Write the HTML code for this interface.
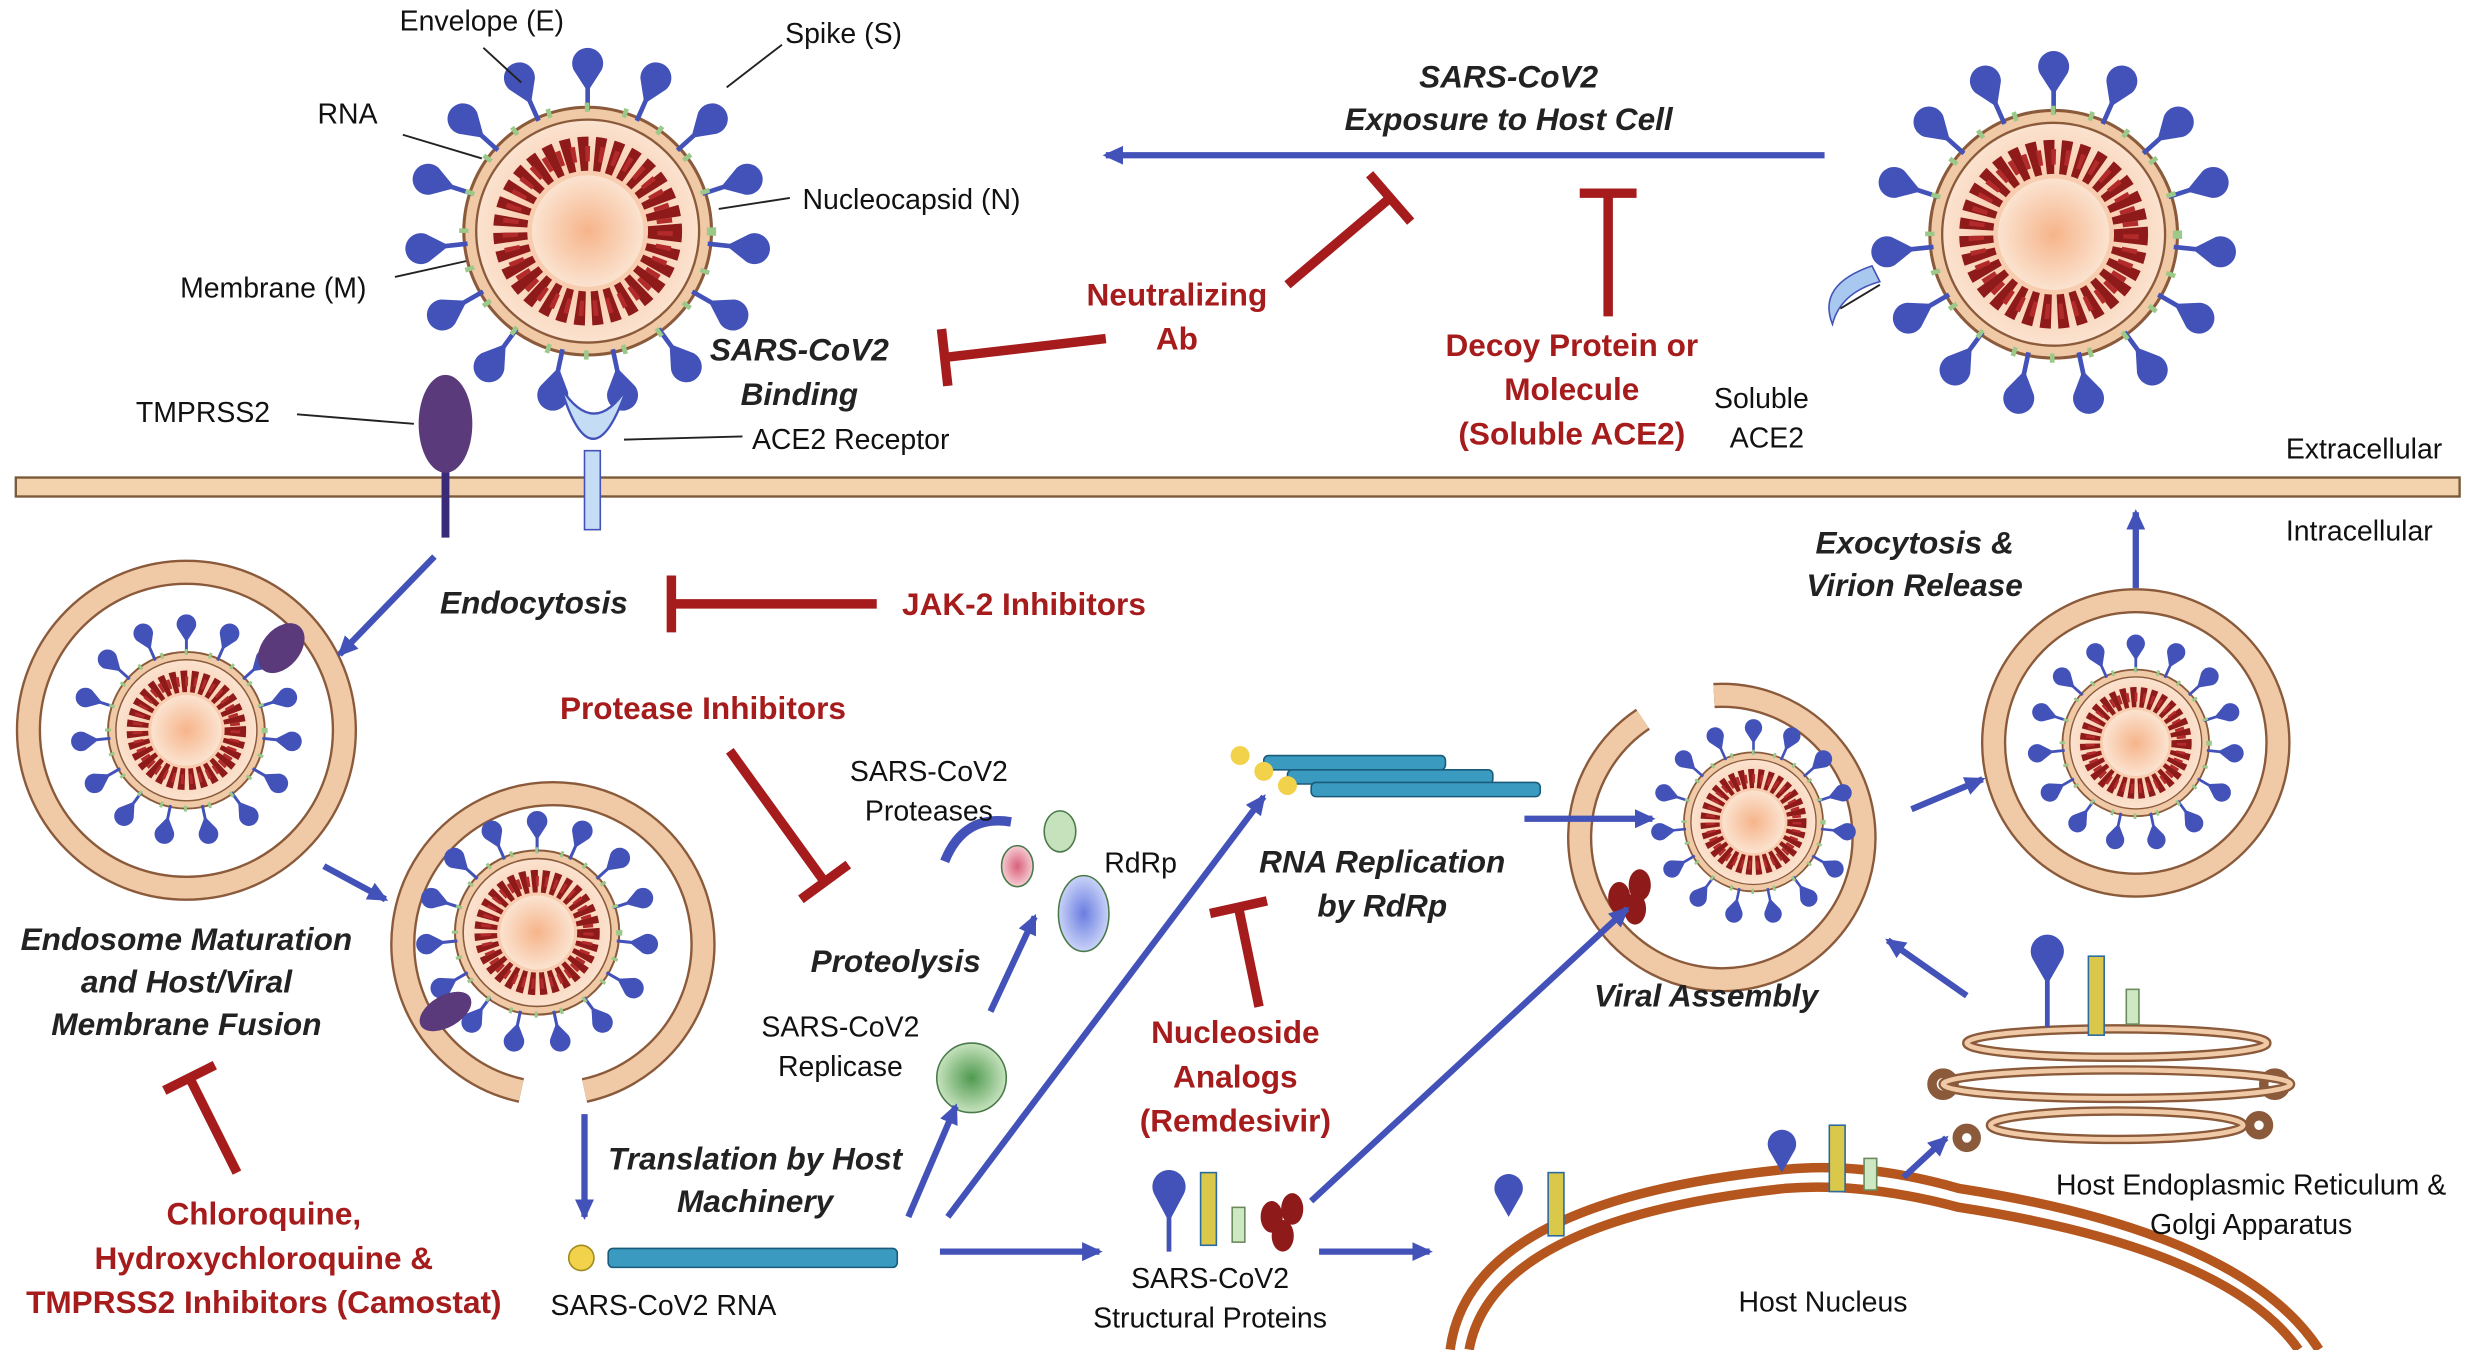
<!DOCTYPE html>
<html><head><meta charset="utf-8"><style>
html,body{margin:0;padding:0;background:#fff;}
svg{display:block}
text{font-family:"Liberation Sans",Arial,sans-serif;}
.l{font-size:18px;fill:#111}
.b{font-size:20px;font-weight:bold;font-style:italic;fill:#222}
.r{font-size:20px;font-weight:bold;fill:#a61c1c}
</style></head><body>
<svg width="2477" height="1350" viewBox="0 0 1568 854" xmlns="http://www.w3.org/2000/svg">
<defs>
<radialGradient id="core"><stop offset="0" stop-color="#f6b48a"/><stop offset="1" stop-color="#fbe3d0"/></radialGradient>
<radialGradient id="gr"><stop offset="0" stop-color="#4f9a4f"/><stop offset="1" stop-color="#c6e2bd"/></radialGradient>
<radialGradient id="bl"><stop offset="0" stop-color="#6a7de0"/><stop offset="1" stop-color="#c9d2f8"/></radialGradient>
<radialGradient id="pk"><stop offset="0" stop-color="#d9607a"/><stop offset="1" stop-color="#f6ccd4"/></radialGradient>
<marker id="ah" markerWidth="14" markerHeight="14" refX="11" refY="7" orient="auto" markerUnits="userSpaceOnUse"><path d="M0,1 L13,7 L0,13 z" fill="#4352b8"/></marker>
<g id="sp"><line x1="0" y1="-78" x2="0" y2="-96" stroke="#4352b8" stroke-width="3"/><path d="M0,-90 L-9,-104 A10,10 0 1 1 9,-104 Z" fill="#4352b8"/></g>
<g id="vir">
<circle r="80" fill="#f0c9a6" stroke="#8a5a3a" stroke-width="2"/>
<circle r="72" fill="url(#core)" stroke="#8a5a3a" stroke-width="1.5"/>
<circle r="50" fill="none" stroke="#8e1a1a" stroke-width="22" stroke-dasharray="6 4"/>
<circle r="50" fill="none" stroke="#b32a2a" stroke-width="10" stroke-dasharray="3 6"/>
<circle r="36" fill="url(#core)"/>
<g>
<use href="#sp" transform="rotate(0)"/><use href="#sp" transform="rotate(24)"/><use href="#sp" transform="rotate(48)"/><use href="#sp" transform="rotate(72)"/><use href="#sp" transform="rotate(96)"/><use href="#sp" transform="rotate(120)"/><use href="#sp" transform="rotate(144)"/><use href="#sp" transform="rotate(168)"/><use href="#sp" transform="rotate(192)"/><use href="#sp" transform="rotate(216)"/><use href="#sp" transform="rotate(240)"/><use href="#sp" transform="rotate(264)"/><use href="#sp" transform="rotate(288)"/><use href="#sp" transform="rotate(312)"/><use href="#sp" transform="rotate(336)"/>
</g>
<circle r="80" fill="none" stroke="#9bc98a" stroke-width="6" stroke-dasharray="3 22"/>
</g>
</defs>

<rect x="10" y="302" width="1547" height="12" fill="#f2d3ae" stroke="#7a5a3a" stroke-width="1.5"/>

<use href="#vir" transform="translate(372,146) scale(0.98)"/>
<use href="#vir" transform="translate(1300,148) scale(0.98)"/>
<path d="M1185,168 Q1150,180 1160,205 Q1165,185 1190,178 Z" fill="#a9c8f0" stroke="#4352b8"/>

<line x1="282" y1="290" x2="282" y2="340" stroke="#3a2a7a" stroke-width="5"/>
<ellipse cx="282" cy="268" rx="17" ry="31" fill="#5a3a7a"/>
<rect x="370" y="285" width="10" height="50" fill="#c4dcf4" stroke="#4352b8"/>
<path d="M355,245 Q375,310 397,245 Q376,278 355,245 Z" fill="#c4dcf4" stroke="#4352b8" stroke-width="1.5"/>

<circle cx="118" cy="462" r="100" fill="none" stroke="#8a5a3a" stroke-width="16"/>
<circle cx="118" cy="462" r="100" fill="none" stroke="#f0c9a6" stroke-width="13"/>
<use href="#vir" transform="translate(118,462) scale(0.62)"/>
<ellipse cx="178" cy="410" rx="12" ry="18" fill="#5a3a7a" transform="rotate(40 178 410)"/>
<path d="M330,690 A95,95 0 1 1 370,690" fill="none" stroke="#8a5a3a" stroke-width="16"/>
<path d="M330,690 A95,95 0 1 1 370,690" fill="none" stroke="#f0c9a6" stroke-width="13"/>
<use href="#vir" transform="translate(340,590) scale(0.65)"/>
<ellipse cx="282" cy="640" rx="10" ry="18" fill="#5a3a7a" transform="rotate(60 282 640)"/>
<path d="M1040,455 A90,90 0 1 0 1085,440" fill="none" stroke="#8a5a3a" stroke-width="16"/>
<path d="M1040,455 A90,90 0 1 0 1085,440" fill="none" stroke="#f0c9a6" stroke-width="13"/>
<use href="#vir" transform="translate(1110,520) scale(0.55)"/>
<circle cx="1352" cy="470" r="90" fill="none" stroke="#8a5a3a" stroke-width="16"/>
<circle cx="1352" cy="470" r="90" fill="none" stroke="#f0c9a6" stroke-width="13"/>
<use href="#vir" transform="translate(1352,470) scale(0.58)"/>

<g fill="none" stroke="#8a5a3a" stroke-width="6">
<ellipse cx="1340" cy="660" rx="95" ry="9"/><ellipse cx="1340" cy="686" rx="110" ry="9"/><ellipse cx="1340" cy="712" rx="80" ry="9"/>
<circle cx="1230" cy="686" r="7"/><circle cx="1440" cy="686" r="7"/><circle cx="1430" cy="712" r="6"/><circle cx="1245" cy="720" r="6"/>
</g>
<g fill="none" stroke="#f0c9a6" stroke-width="3">
<ellipse cx="1340" cy="660" rx="95" ry="9"/><ellipse cx="1340" cy="686" rx="110" ry="9"/><ellipse cx="1340" cy="712" rx="80" ry="9"/>
</g>
<path d="M1296,620 L1288,606 A9,9 0 1 1 1304,606 Z M1296,620 V650" fill="#4352b8" stroke="#4352b8" stroke-width="3"/>
<rect x="1322" y="605" width="10" height="50" fill="#d9c84a" stroke="#2a6aa0"/>
<rect x="1346" y="626" width="8" height="22" fill="#cfe8c4" stroke="#6a8a5a"/>

<path d="M918,854 Q930,760 1130,740 Q1180,735 1240,752 Q1420,780 1468,854" fill="none" stroke="#b5561e" stroke-width="6"/>
<path d="M930,854 Q945,772 1130,752 Q1180,748 1240,764 Q1410,790 1455,854" fill="none" stroke="#b5561e" stroke-width="6"/>
<path d="M1128,742 L1120,728 A9,9 0 1 1 1136,728 Z" fill="#4352b8"/><rect x="1158" y="712" width="10" height="42" fill="#d9c84a" stroke="#2a6aa0"/><rect x="1180" y="733" width="8" height="20" fill="#cfe8c4" stroke="#6a8a5a"/>
<path d="M955,770 L947,756 A9,9 0 1 1 963,756 Z" fill="#4352b8"/><rect x="980" y="742" width="10" height="40" fill="#d9c84a" stroke="#2a6aa0"/>

<g>
<rect x="385" y="790" width="183" height="12" rx="3" fill="#3a9ac0" stroke="#1a5a7a"/><circle cx="368" cy="796" r="8" fill="#f2d24a" stroke="#a08a20"/>
<rect x="800" y="478" width="115" height="9" rx="3" fill="#3a9ac0" stroke="#1a5a7a"/><circle cx="785" cy="478" r="6" fill="#f2d24a"/>
<rect x="815" y="487" width="130" height="9" rx="3" fill="#3a9ac0" stroke="#1a5a7a"/><circle cx="800" cy="488" r="6" fill="#f2d24a"/>
<rect x="830" y="495" width="145" height="9" rx="3" fill="#3a9ac0" stroke="#1a5a7a"/><circle cx="815" cy="497" r="6" fill="#f2d24a"/>
</g>
<circle cx="615" cy="682" r="22" fill="url(#gr)" stroke="#4a7a4a"/>
<ellipse cx="686" cy="578" rx="16" ry="24" fill="url(#bl)" stroke="#4a7a4a"/>
<ellipse cx="644" cy="548" rx="10" ry="13" fill="url(#pk)" stroke="#4a7a4a"/>
<ellipse cx="671" cy="526" rx="10" ry="13" fill="#c6e2bd" stroke="#4a7a4a"/>
<path d="M598,545 Q610,515 640,520" fill="none" stroke="#4352b8" stroke-width="6"/>
<path d="M740,770 L732,755 A9,9 0 1 1 748,755 Z M740,770 V792" fill="#4352b8" stroke="#4352b8" stroke-width="3"/>
<rect x="760" y="742" width="10" height="46" fill="#d9c84a" stroke="#2a6aa0"/><rect x="780" y="764" width="8" height="22" fill="#cfe8c4" stroke="#6a8a5a"/>
<g fill="#8e1a1a"><ellipse cx="805" cy="770" rx="7" ry="10"/><ellipse cx="818" cy="765" rx="7" ry="10"/><ellipse cx="812" cy="782" rx="7" ry="10"/>
<ellipse cx="1025" cy="568" rx="7" ry="10"/><ellipse cx="1038" cy="560" rx="7" ry="10"/><ellipse cx="1035" cy="575" rx="7" ry="10"/></g>

<g stroke="#4352b8" stroke-width="4" fill="none" marker-end="url(#ah)">
<line x1="1155" y1="98" x2="700" y2="98"/>
<line x1="275" y1="352" x2="215" y2="414"/>
<line x1="205" y1="548" x2="244" y2="569"/>
<line x1="370" y1="705" x2="370" y2="770"/>
<line x1="575" y1="770" x2="605" y2="700"/>
<line x1="627" y1="640" x2="655" y2="580"/>
<line x1="600" y1="770" x2="800" y2="504"/>
<line x1="595" y1="792" x2="696" y2="792"/>
<line x1="835" y1="792" x2="905" y2="792"/>
<line x1="830" y1="760" x2="1030" y2="575"/>
<line x1="965" y1="518" x2="1046" y2="518"/>
<line x1="1210" y1="512" x2="1255" y2="493"/>
<line x1="1352" y1="372" x2="1352" y2="324"/>
<line x1="1245" y1="630" x2="1195" y2="595"/>
<line x1="1205" y1="745" x2="1232" y2="720"/>
</g>

<g stroke="#a61c1c" stroke-width="6" fill="none">
<line x1="700" y1="214" x2="598" y2="226"/><line x1="596" y1="208" x2="600" y2="244"/>
<line x1="815" y1="180" x2="880" y2="125"/><line x1="867" y1="110" x2="893" y2="140"/>
<line x1="1018" y1="200" x2="1018" y2="122"/><line x1="1000" y1="122" x2="1036" y2="122"/>
<line x1="555" y1="382" x2="425" y2="382"/><line x1="425" y1="364" x2="425" y2="400"/>
<line x1="462" y1="475" x2="522" y2="558"/><line x1="507" y1="569" x2="537" y2="547"/>
<line x1="797" y1="637" x2="784" y2="574"/><line x1="766" y1="578" x2="802" y2="570"/>
<line x1="150" y1="742" x2="120" y2="682"/><line x1="104" y1="690" x2="136" y2="674"/>
</g>

<g stroke="#222" stroke-width="1.2">
<line x1="306" y1="30" x2="330" y2="52"/><line x1="495" y1="28" x2="460" y2="55"/>
<line x1="255" y1="85" x2="305" y2="100"/><line x1="500" y1="125" x2="455" y2="132"/>
<line x1="250" y1="175" x2="295" y2="165"/><line x1="188" y1="262" x2="262" y2="268"/>
<line x1="470" y1="276" x2="395" y2="278"/><line x1="1165" y1="195" x2="1190" y2="180"/>
</g>

<text class="l" x="253" y="19">Envelope (E)</text>
<text class="l" x="497" y="27">Spike (S)</text>
<text class="l" x="201" y="78">RNA</text>
<text class="l" x="508" y="132">Nucleocapsid (N)</text>
<text class="l" x="114" y="188">Membrane (M)</text>
<text class="l" x="86" y="267">TMPRSS2</text>
<text class="l" x="476" y="284">ACE2 Receptor</text>
<text class="l" x="1085" y="258">Soluble</text>
<text class="l" x="1095" y="283">ACE2</text>
<text class="l" x="1447" y="290">Extracellular</text>
<text class="l" x="1447" y="342">Intracellular</text>
<text class="b" x="955" y="55" text-anchor="middle">SARS-CoV2</text>
<text class="b" x="955" y="82" text-anchor="middle">Exposure to Host Cell</text>
<text class="b" x="506" y="228" text-anchor="middle">SARS-CoV2</text>
<text class="b" x="506" y="256" text-anchor="middle">Binding</text>
<text class="r" x="745" y="193" text-anchor="middle">Neutralizing</text>
<text class="r" x="745" y="221" text-anchor="middle">Ab</text>
<text class="r" x="995" y="225" text-anchor="middle">Decoy Protein or</text>
<text class="r" x="995" y="253" text-anchor="middle">Molecule</text>
<text class="r" x="995" y="281" text-anchor="middle">(Soluble ACE2)</text>
<text class="b" x="338" y="388" text-anchor="middle">Endocytosis</text>
<text class="r" x="571" y="389">JAK-2 Inhibitors</text>
<text class="r" x="445" y="455" text-anchor="middle">Protease Inhibitors</text>
<text class="l" x="588" y="494" text-anchor="middle">SARS-CoV2</text>
<text class="l" x="588" y="519" text-anchor="middle">Proteases</text>
<text class="l" x="699" y="552">RdRp</text>
<text class="b" x="567" y="615" text-anchor="middle">Proteolysis</text>
<text class="l" x="532" y="656" text-anchor="middle">SARS-CoV2</text>
<text class="l" x="532" y="681" text-anchor="middle">Replicase</text>
<text class="b" x="875" y="552" text-anchor="middle">RNA Replication</text>
<text class="b" x="875" y="580" text-anchor="middle">by RdRp</text>
<text class="r" x="782" y="660" text-anchor="middle">Nucleoside</text>
<text class="r" x="782" y="688" text-anchor="middle">Analogs</text>
<text class="r" x="782" y="716" text-anchor="middle">(Remdesivir)</text>
<text class="b" x="1080" y="637" text-anchor="middle">Viral Assembly</text>
<text class="b" x="1212" y="350" text-anchor="middle">Exocytosis &amp;</text>
<text class="b" x="1212" y="377" text-anchor="middle">Virion Release</text>
<text class="b" x="118" y="601" text-anchor="middle">Endosome Maturation</text>
<text class="b" x="118" y="628" text-anchor="middle">and Host/Viral</text>
<text class="b" x="118" y="655" text-anchor="middle">Membrane Fusion</text>
<text class="b" x="478" y="740" text-anchor="middle">Translation by Host</text>
<text class="b" x="478" y="767" text-anchor="middle">Machinery</text>
<text class="r" x="167" y="775" text-anchor="middle">Chloroquine,</text>
<text class="r" x="167" y="803" text-anchor="middle">Hydroxychloroquine &amp;</text>
<text class="r" x="167" y="831" text-anchor="middle">TMPRSS2 Inhibitors (Camostat)</text>
<text class="l" x="420" y="832" text-anchor="middle">SARS-CoV2 RNA</text>
<text class="l" x="766" y="815" text-anchor="middle">SARS-CoV2</text>
<text class="l" x="766" y="840" text-anchor="middle">Structural Proteins</text>
<text class="l" x="1154" y="830" text-anchor="middle">Host Nucleus</text>
<text class="l" x="1425" y="756" text-anchor="middle">Host Endoplasmic Reticulum &amp;</text>
<text class="l" x="1425" y="781" text-anchor="middle">Golgi Apparatus</text>
</svg>
</body></html>
